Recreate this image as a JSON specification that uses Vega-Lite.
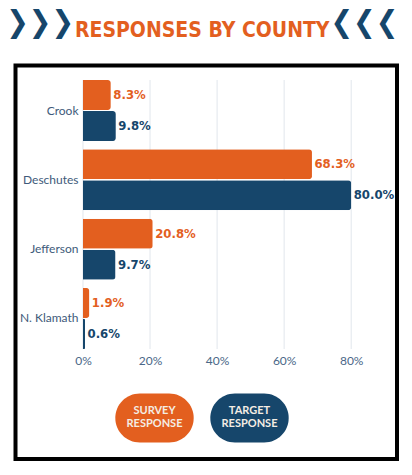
{
  "$schema": "https://vega.github.io/schema/vega-lite/v6.json",
  "width": 381.5,
  "height": 393.5,
  "autosize": {"type": "none"},
  "padding": {"left": 15.5, "top": 65.5, "right": 15, "bottom": 16},
  "background": "white",
  "title": {
    "text": "RESPONSES BY COUNTY",
    "subtitle": "❯❯❯\u2003\u2003\u2003\u2003\u2003\u2003\u2003\u2003\u2003\u2002❮❮❮",
    "anchor": "middle",
    "frame": "group",
    "dx": -4,
    "offset": 12,
    "color": "#E35F1F",
    "font": "DejaVu Sans Condensed",
    "fontSize": 21,
    "fontWeight": "bold",
    "subtitleColor": "#16466B",
    "subtitleFont": "DejaVu Sans Condensed",
    "subtitleFontWeight": "bold",
    "subtitleFontSize": 30,
    "subtitlePadding": -33.5
  },
  "data": {
    "values": [
      {"county": "Crook", "series": "Survey Response", "value": 0.083},
      {"county": "Crook", "series": "Target Response", "value": 0.098},
      {"county": "Deschutes", "series": "Survey Response", "value": 0.683},
      {"county": "Deschutes", "series": "Target Response", "value": 0.8},
      {"county": "Jefferson", "series": "Survey Response", "value": 0.208},
      {"county": "Jefferson", "series": "Target Response", "value": 0.097},
      {"county": "N. Klamath", "series": "Survey Response", "value": 0.019},
      {"county": "N. Klamath", "series": "Target Response", "value": 0.006}
    ]
  },
  "layer": [
    {
      "data": {"values": [{}]},
      "mark": {"type": "rule", "color": "#E1E6EC", "strokeWidth": 1},
      "encoding": {
        "x": {"datum": 0, "type": "quantitative", "title": null},
        "y": {"datum": "Crook", "type": "nominal", "bandPosition": 0, "title": null},
        "y2": {"datum": "N. Klamath", "bandPosition": 1}
      }
    },
    {
      "data": {"values": [{}]},
      "mark": {"type": "rule", "color": "#E1E6EC", "strokeWidth": 1},
      "encoding": {
        "x": {"datum": 0.2, "type": "quantitative", "title": null},
        "y": {"datum": "Crook", "type": "nominal", "bandPosition": 0, "title": null},
        "y2": {"datum": "N. Klamath", "bandPosition": 1}
      }
    },
    {
      "data": {"values": [{}]},
      "mark": {"type": "rule", "color": "#E1E6EC", "strokeWidth": 1},
      "encoding": {
        "x": {"datum": 0.4, "type": "quantitative", "title": null},
        "y": {"datum": "Crook", "type": "nominal", "bandPosition": 0, "title": null},
        "y2": {"datum": "N. Klamath", "bandPosition": 1}
      }
    },
    {
      "data": {"values": [{}]},
      "mark": {"type": "rule", "color": "#E1E6EC", "strokeWidth": 1},
      "encoding": {
        "x": {"datum": 0.6, "type": "quantitative", "title": null},
        "y": {"datum": "Crook", "type": "nominal", "bandPosition": 0, "title": null},
        "y2": {"datum": "N. Klamath", "bandPosition": 1}
      }
    },
    {
      "data": {"values": [{}]},
      "mark": {"type": "rule", "color": "#E1E6EC", "strokeWidth": 1},
      "encoding": {
        "x": {"datum": 0.8, "type": "quantitative", "title": null},
        "y": {"datum": "Crook", "type": "nominal", "bandPosition": 0, "title": null},
        "y2": {"datum": "N. Klamath", "bandPosition": 1}
      }
    },
    {
      "encoding": {
        "y": {
          "field": "county",
          "type": "nominal",
          "title": null,
          "scale": {
            "domain": ["Crook", "Deschutes", "Jefferson", "N. Klamath"],
            "range": [14.5, 283.5],
            "paddingInner": 0.12,
            "paddingOuter": 0
          },
          "axis": {
            "orient": "left",
            "offset": -67.5,
            "domain": false,
            "ticks": false,
            "grid": false,
            "labelPadding": 5,
            "labelFont": "Lato",
            "labelFontSize": 12,
            "labelColor": "#3E5A7A"
          }
        },
        "yOffset": {
          "field": "series",
          "type": "nominal",
          "sort": ["Survey Response", "Target Response"],
          "scale": {"paddingInner": 0.033, "paddingOuter": 0}
        },
        "x": {
          "field": "value",
          "type": "quantitative",
          "title": null,
          "scale": {"domain": [-0.2013, 0.9366], "nice": false},
          "axis": {
            "orient": "bottom",
            "offset": -110,
            "values": [0, 0.2, 0.4, 0.6, 0.8],
            "format": ".0%",
            "domain": false,
            "ticks": false,
            "grid": false,
            "labelFlush": false,
            "labelPadding": 6,
            "labelFont": "Lato",
            "labelFontSize": 12,
            "labelColor": "#4A6788"
          }
        }
      },
      "layer": [
        {
          "mark": {"type": "bar", "cornerRadiusEnd": 3},
          "encoding": {
            "color": {
              "field": "series",
              "type": "nominal",
              "scale": {"domain": ["Survey Response", "Target Response"], "range": ["#E35F1F", "#16466B"]},
              "legend": {
                "orient": "none",
                "legendX": 114.5,
                "legendY": 321.3,
                "direction": "horizontal",
                "title": null,
                "symbolType": "M -0.6 -0.73 L 0.6 -0.73 C 1.1523 -0.73 1.6 -0.2823 1.6 0.27 C 1.6 0.8223 1.1523 1.27 0.6 1.27 L -0.6 1.27 C -1.1523 1.27 -1.6 0.8223 -1.6 0.27 C -1.6 -0.2823 -1.1523 -0.73 -0.6 -0.73 Z",
                "symbolSize": 2401,
                "symbolStrokeWidth": 0,
                "symbolOpacity": 1,
                "labelAlign": "center",
                "labelBaseline": "middle",
                "labelOffset": -24.5,
                "labelColor": "#F4EDE4",
                "labelFont": "Lato",
                "labelFontWeight": "bold",
                "labelFontSize": 11,
                "labelLimit": 0,
                "columnPadding": 16,
                "labelExpr": "datum.label == 'Survey Response' ? ['SURVEY', 'RESPONSE'] : ['TARGET', 'RESPONSE']"
              }
            }
          }
        },
        {
          "mark": {
            "type": "text",
            "align": "left",
            "baseline": "middle",
            "dx": 2.5,
            "font": "DejaVu Sans Condensed",
            "fontWeight": "bold",
            "fontSize": 13
          },
          "encoding": {
            "text": {"field": "value", "type": "quantitative", "format": ".1%"},
            "color": {"field": "series", "type": "nominal", "legend": null}
          }
        }
      ]
    }
  ],
  "config": {
    "view": {"stroke": "#000000", "strokeWidth": 4}
  }
}
